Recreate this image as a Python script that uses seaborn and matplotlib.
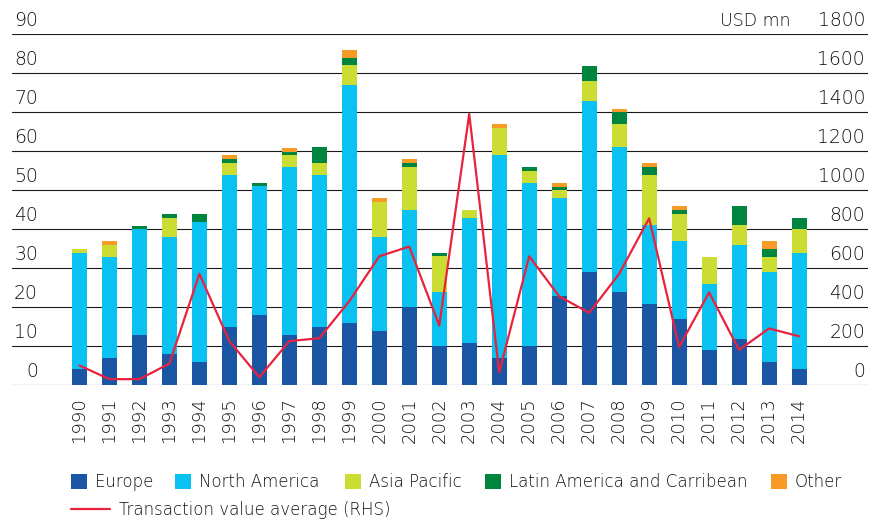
import numpy as np
import pandas as pd
import matplotlib
matplotlib.use("Agg")
import matplotlib.pyplot as plt
import matplotlib.transforms as mtransforms
from matplotlib.patches import Patch
from matplotlib.lines import Line2D
import seaborn as sns

# Deal counts by region (left axis) and average transaction value (right axis)
years = [str(y) for y in range(1990, 2015)]
europe = [4, 7, 12.8, 8, 6, 15, 18, 12.8, 15, 16, 13.8, 20, 10, 10.8, 7, 10, 22.8,
          29, 23.8, 20.8, 16.9, 9, 11.8, 6, 4]
north_america = [29.8, 25.8, 27.2, 29.9, 35.8, 38.9, 32.9, 43.1, 38.9, 61, 24.1, 24.9,
                 13.8, 32, 52, 41.8, 25.1, 43.8, 37.2, 20.2, 20, 16.9, 24.1, 23, 29.8]
asia_pacific = [1.1, 3.1, 0, 4.9, 0, 3.1, 0, 3.1, 3.1, 5.1, 9, 11, 9.3, 2.1, 6.9, 3.1,
                2.1, 5.1, 5.9, 12.8, 6.9, 6.9, 5.1, 3.8, 6.2]
latin_america = [0, 0, 0.8, 1, 2, 1, 1, 0.7, 4.1, 1.8, 0, 1, 0.7, 0, 0, 1, 0.8, 3.9,
                 3.1, 2.1, 1.1, 0, 4.9, 2.1, 2.8]
other = [0, 1, 0, 0, 0, 1, 0, 1.1, 0, 2.1, 1, 1, 0, 0, 1, 0, 1, 0, 0.8, 1, 1, 0, 0, 2, 0]
avg_value = [100, 30, 30, 110, 570, 225, 40, 225, 240, 430, 660, 710, 305, 1390, 65,
             660, 455, 370, 570, 855, 195, 475, 180, 290, 250]

series_names = ["Europe", "North America", "Asia Pacific",
                "Latin America and Carribean", "Other"]
series_values = [europe, north_america, asia_pacific, latin_america, other]
colors = ["#1B56A4", "#09C2F2", "#CBDD33", "#00853F", "#F89A26"]
line_color = "#E8223F"
line_label = "Transaction value average (RHS)"

sns.set_theme(style="white")
plt.rcParams["font.family"] = ["DejaVu Sans"]
plt.rcParams["font.weight"] = "light"
text_color = "#111111"
ytick_fs = 13.5
xtick_fs = 13
legend_fs = 12

df = pd.DataFrame({"year": years})
for name, vals in zip(series_names, series_values):
    df[name] = vals
# cumulative heights so each segment sits on the ones below it
cum = df[series_names].cumsum(axis=1)

W, H = 883, 525
fig = plt.figure(figsize=(W / 100, H / 100), dpi=100)
ax = fig.add_axes([12 / W, (H - 385) / H, (868 - 12) / W, (385 - 34) / H])

for name, col in reversed(list(zip(series_names, colors))):
    sns.barplot(x=df["year"], y=cum[name], color=col, width=0.5,
                saturation=1, ax=ax, linewidth=0, zorder=3)

ax.set_xlim(-2.25, 26.3)
ax.set_ylim(0, 90)
ax.set_yticks(np.arange(0, 91, 10))
ax.set_yticklabels([str(v) for v in range(0, 91, 10)])
ax.set_xlabel("")
ax.set_ylabel("")
for s in ax.spines.values():
    s.set_visible(False)
ax.yaxis.grid(True, color="#1a1a1a", linewidth=0.8, zorder=0)
ax.xaxis.grid(False)
ax.set_axisbelow(True)

# twin axis for the average transaction value line
ax2 = ax.twinx()
x_pos = np.arange(len(years))
sns.lineplot(x=x_pos, y=avg_value, color=line_color, linewidth=1.6, ax=ax2,
             zorder=5)
ax2.set_ylim(0, 1800)
ax2.set_yticks(np.arange(0, 1801, 200))
ax2.set_yticklabels([str(v) for v in range(0, 1801, 200)])
ax2.set_ylabel("")
ax2.grid(False)
for s in ax2.spines.values():
    s.set_visible(False)
ax.set_zorder(1)
ax2.set_zorder(2)
ax2.patch.set_visible(False)

# tick label styling: labels sit just above their gridlines, inside the plot
lift = mtransforms.ScaledTranslation(0, 8 / 100, fig.dpi_scale_trans)
ax.tick_params(axis="y", length=0, pad=-(38 - 12) * 0.72, labelsize=ytick_fs,
               labelcolor=text_color)
for lbl in ax.get_yticklabels():
    lbl.set_horizontalalignment("right")
    lbl.set_verticalalignment("baseline")
    lbl.set_transform(lbl.get_transform() + lift)
ax2.tick_params(axis="y", length=0, pad=-3 * 0.72, labelsize=ytick_fs,
                labelcolor=text_color)
for lbl in ax2.get_yticklabels():
    lbl.set_horizontalalignment("right")
    lbl.set_verticalalignment("baseline")
    lbl.set_transform(lbl.get_transform() + lift)

ax.tick_params(axis="x", length=0, pad=12 * 0.72, labelsize=xtick_fs,
               labelcolor=text_color, labelrotation=90)

ax2.text((790 - 12) / (868 - 12), 1800, "USD mn", fontsize=12.5, color=text_color,
         ha="right", va="baseline",
         transform=mtransforms.blended_transform_factory(ax2.transAxes,
                                                         ax2.transData) + lift)

# legend: one entry per region on the first row, the line on the second
px = legend_fs * 100 / 72  # font size in pixels
patch_left = [71, 175, 345, 485, 771]
for name, col, xl in zip(series_names, colors, patch_left):
    fig.legend(handles=[Patch(facecolor=col, edgecolor="none", label=name)],
               frameon=False, fontsize=legend_fs, loc="center left",
               bbox_to_anchor=(xl / W, 1 - 482 / H), borderpad=0,
               borderaxespad=0, handlelength=16 / px, handleheight=16 / px,
               handletextpad=8 / px, labelcolor=text_color)
fig.legend(handles=[Line2D([0], [0], color=line_color, linewidth=1.6,
                           label=line_label)],
           frameon=False, fontsize=legend_fs, loc="center left",
           bbox_to_anchor=(71 / W, 1 - 510 / H), borderpad=0, borderaxespad=0,
           handlelength=39 / px, handletextpad=9 / px, labelcolor=text_color)

fig.savefig("out.png", dpi=100)
